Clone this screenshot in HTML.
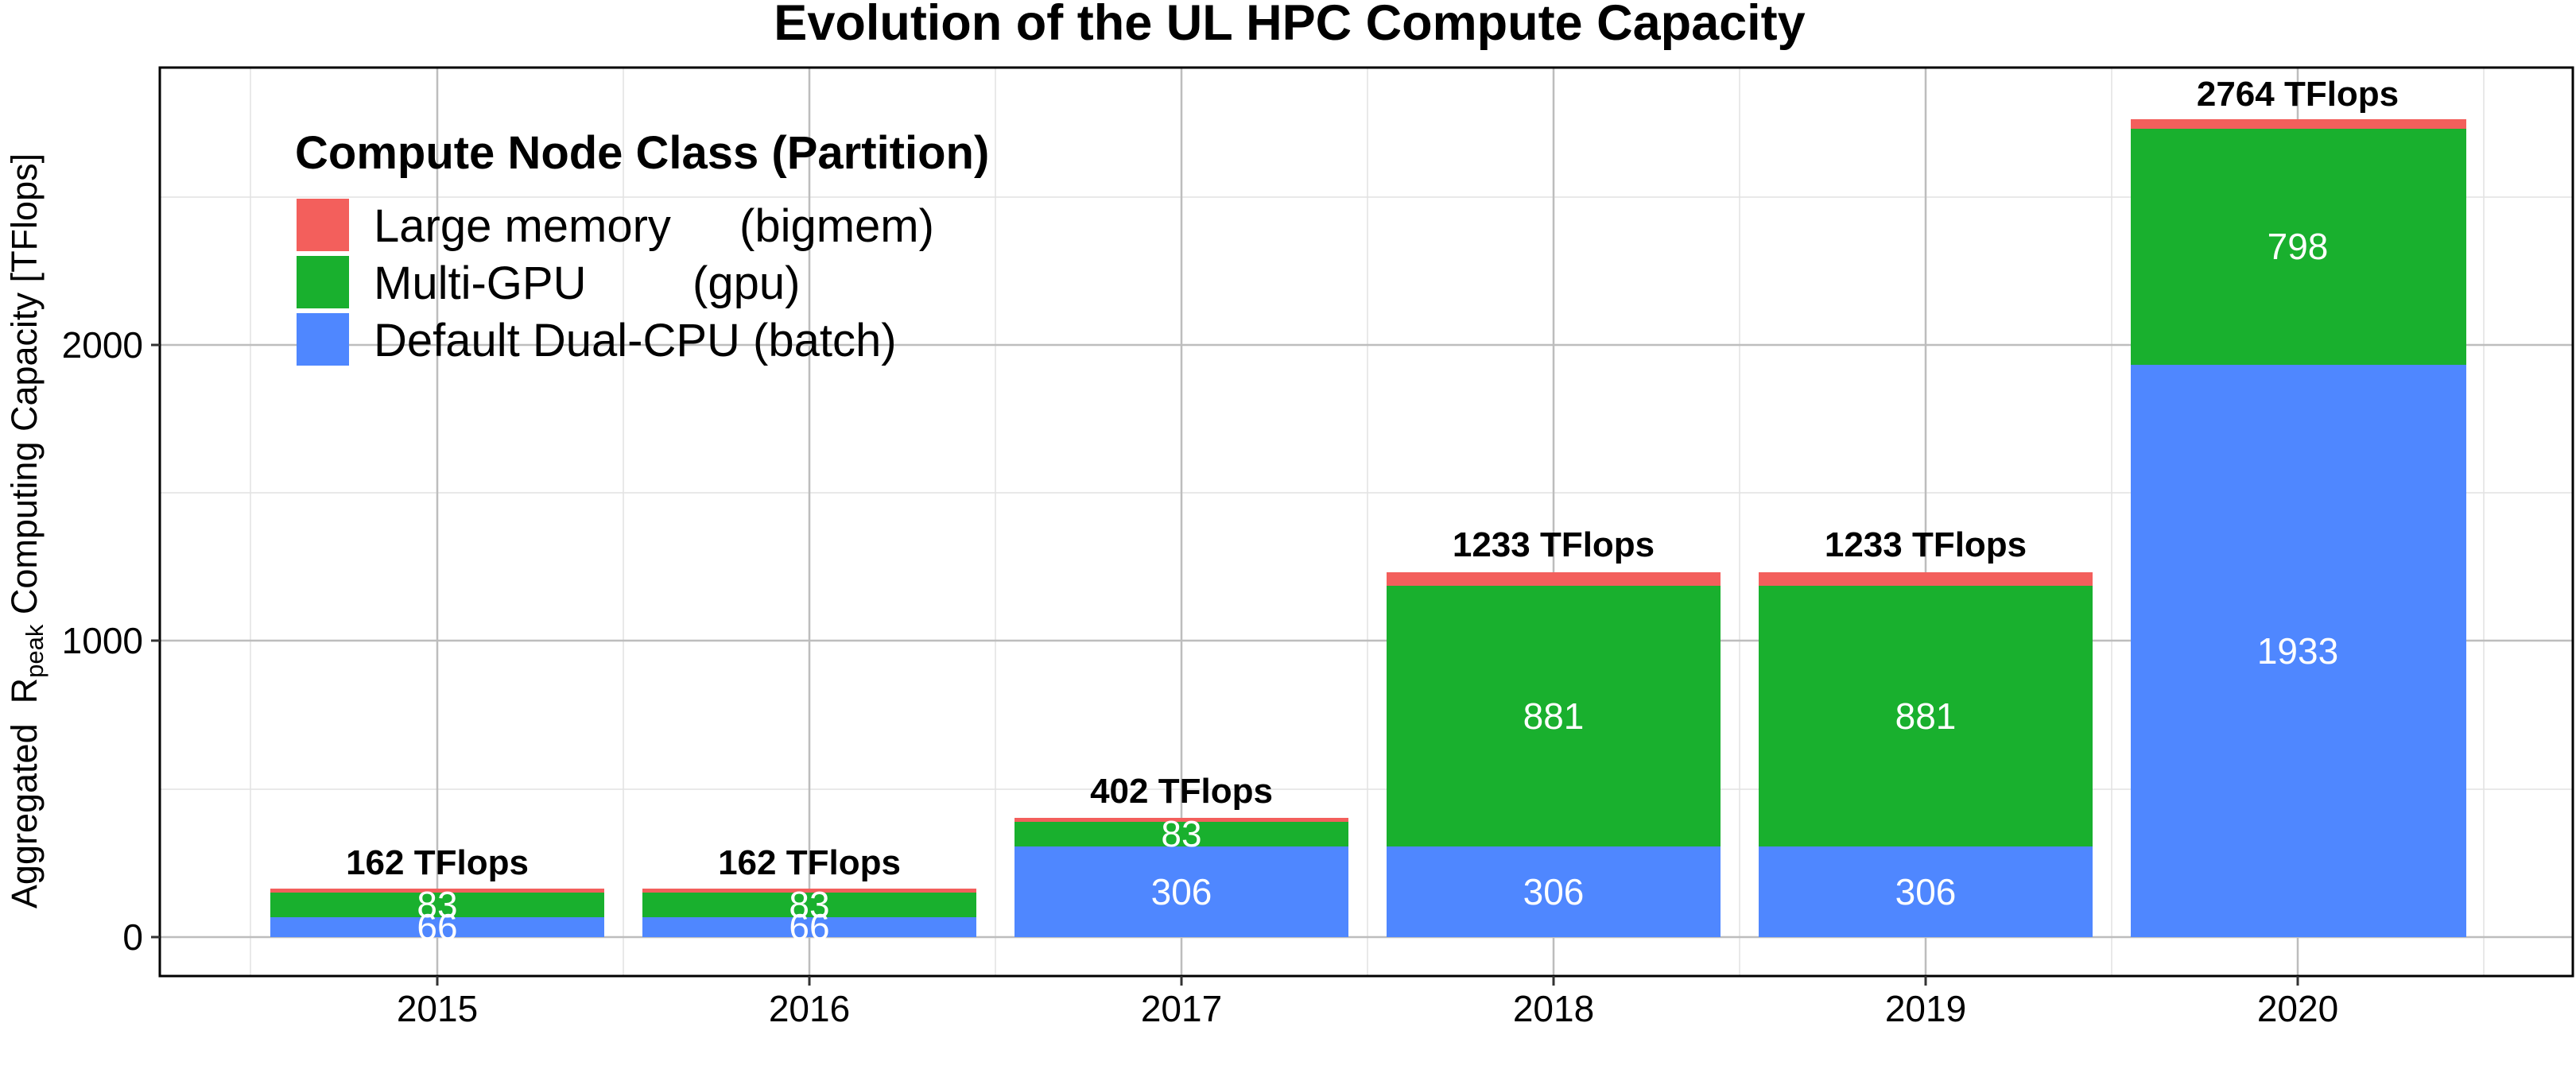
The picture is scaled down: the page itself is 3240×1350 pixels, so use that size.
<!DOCTYPE html>
<html><head><meta charset="utf-8"><style>
html,body{margin:0;padding:0;background:#fff}
svg{display:block}
text{font-family:"Liberation Sans",Arial,sans-serif}
</style></head><body>
<svg width="3240" height="1350" viewBox="0 0 3240 1350" xmlns="http://www.w3.org/2000/svg">
<rect width="3240" height="1350" fill="#fff"/>
<text x="1622" y="50" font-size="63" font-weight="bold" text-anchor="middle">Evolution of the UL HPC Compute Capacity</text>
<g stroke="#e2e2e2" stroke-width="1.5">
<line x1="201" x2="3237" y1="993" y2="993"/>
<line x1="201" x2="3237" y1="620" y2="620"/>
<line x1="201" x2="3237" y1="248" y2="248"/>
<line x1="315" x2="315" y1="85" y2="1228"/>
<line x1="784" x2="784" y1="85" y2="1228"/>
<line x1="1252" x2="1252" y1="85" y2="1228"/>
<line x1="1720" x2="1720" y1="85" y2="1228"/>
<line x1="2188" x2="2188" y1="85" y2="1228"/>
<line x1="2656" x2="2656" y1="85" y2="1228"/>
<line x1="3124" x2="3124" y1="85" y2="1228"/>
</g>
<g stroke="#bdbdbd" stroke-width="2.5">
<line x1="201" x2="3237" y1="1179" y2="1179"/>
<line x1="201" x2="3237" y1="806" y2="806"/>
<line x1="201" x2="3237" y1="434" y2="434"/>
<line x1="550" x2="550" y1="85" y2="1228"/>
<line x1="1018" x2="1018" y1="85" y2="1228"/>
<line x1="1486" x2="1486" y1="85" y2="1228"/>
<line x1="1954" x2="1954" y1="85" y2="1228"/>
<line x1="2422" x2="2422" y1="85" y2="1228"/>
<line x1="2890" x2="2890" y1="85" y2="1228"/>
</g>
<g>
<rect x="340" y="1154" width="420" height="25" fill="#4f87ff"/>
<rect x="340" y="1123" width="420" height="31" fill="#19b02e"/>
<rect x="340" y="1118" width="420" height="5" fill="#f35f5c"/>
<rect x="808" y="1154" width="420" height="25" fill="#4f87ff"/>
<rect x="808" y="1123" width="420" height="31" fill="#19b02e"/>
<rect x="808" y="1118" width="420" height="5" fill="#f35f5c"/>
<rect x="1276" y="1065" width="420" height="114" fill="#4f87ff"/>
<rect x="1276" y="1034" width="420" height="31" fill="#19b02e"/>
<rect x="1276" y="1029" width="420" height="5" fill="#f35f5c"/>
<rect x="1744" y="1065" width="420" height="114" fill="#4f87ff"/>
<rect x="1744" y="737" width="420" height="328" fill="#19b02e"/>
<rect x="1744" y="720" width="420" height="17" fill="#f35f5c"/>
<rect x="2212" y="1065" width="420" height="114" fill="#4f87ff"/>
<rect x="2212" y="737" width="420" height="328" fill="#19b02e"/>
<rect x="2212" y="720" width="420" height="17" fill="#f35f5c"/>
<rect x="2680" y="459" width="422" height="720" fill="#4f87ff"/>
<rect x="2680" y="162" width="422" height="297" fill="#19b02e"/>
<rect x="2680" y="150" width="422" height="12" fill="#f35f5c"/>
</g>
<g fill="#fff" font-size="46" text-anchor="middle">
<text x="550" y="1182">66</text><text x="550" y="1154">83</text>
<text x="1018" y="1182">66</text><text x="1018" y="1154">83</text>
<text x="1486" y="1138">306</text><text x="1486" y="1065">83</text>
<text x="1954" y="1138">306</text><text x="1954" y="917">881</text>
<text x="2422" y="1138">306</text><text x="2422" y="917">881</text>
<text x="2890" y="835">1933</text><text x="2890" y="326">798</text>
</g>
<g font-size="44" font-weight="bold" text-anchor="middle">
<text x="550" y="1100">162 TFlops</text>
<text x="1018" y="1100">162 TFlops</text>
<text x="1486" y="1010">402 TFlops</text>
<text x="1954" y="700">1233 TFlops</text>
<text x="2422" y="700">1233 TFlops</text>
<text x="2890" y="133">2764 TFlops</text>
</g>
<rect x="201" y="85" width="3035" height="1143" fill="none" stroke="#000" stroke-width="3"/>
<g stroke="#333" stroke-width="3">
<line x1="190" x2="201" y1="1179" y2="1179"/>
<line x1="190" x2="201" y1="806" y2="806"/>
<line x1="190" x2="201" y1="434" y2="434"/>
<line x1="550" x2="550" y1="1228" y2="1240"/>
<line x1="1018" x2="1018" y1="1228" y2="1240"/>
<line x1="1486" x2="1486" y1="1228" y2="1240"/>
<line x1="1954" x2="1954" y1="1228" y2="1240"/>
<line x1="2422" x2="2422" y1="1228" y2="1240"/>
<line x1="2890" x2="2890" y1="1228" y2="1240"/>
</g>
<g font-size="46" text-anchor="end">
<text x="180" y="1195">0</text>
<text x="180" y="822">1000</text>
<text x="180" y="450">2000</text>
</g>
<g font-size="46" text-anchor="middle">
<text x="550" y="1285">2015</text>
<text x="1018" y="1285">2016</text>
<text x="1486" y="1285">2017</text>
<text x="1954" y="1285">2018</text>
<text x="2422" y="1285">2019</text>
<text x="2890" y="1285">2020</text>
</g>
<text transform="translate(46,668) rotate(-90)" font-size="45" text-anchor="middle" xml:space="preserve">Aggregated  R<tspan font-size="31" dy="8">peak</tspan><tspan dy="-8"> Computing Capacity [TFlops]</tspan></text>
<text x="371" y="212" font-size="58" font-weight="bold">Compute Node Class (Partition)</text>
<rect x="373" y="250" width="66" height="66" fill="#f35f5c"/>
<rect x="373" y="322" width="66" height="66" fill="#19b02e"/>
<rect x="373" y="394" width="66" height="66" fill="#4f87ff"/>
<g font-size="58">
<text x="470" y="304">Large memory</text><text x="930" y="304">(bigmem)</text>
<text x="470" y="376">Multi-GPU</text><text x="871" y="376">(gpu)</text>
<text x="470" y="448">Default Dual-CPU (batch)</text>
</g>
</svg>
</body></html>
